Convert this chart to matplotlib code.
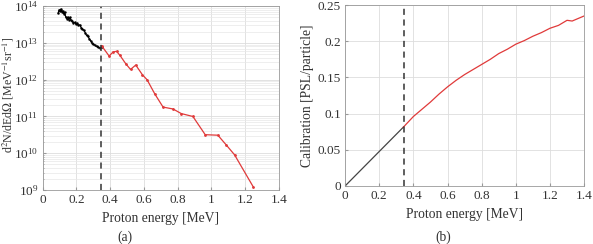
import numpy as np
import matplotlib.pyplot as plt

plt.rcParams['font.family'] = ['Liberation Serif', 'DejaVu Serif']
plt.rcParams['mathtext.fontset'] = 'stix'

# (a) spectrum
e_low = [0.092, 0.098, 0.104, 0.108, 0.112, 0.118, 0.124, 0.13, 0.136, 0.142, 0.148,
         0.155, 0.162, 0.168, 0.175, 0.182, 0.19, 0.198, 0.205, 0.212, 0.22, 0.228,
         0.236, 0.244, 0.252, 0.26, 0.268, 0.276, 0.284, 0.292, 0.3, 0.31, 0.32,
         0.33, 0.34, 0.35]
n_low = [6.5e13, 8.0e13, 7.2e13, 8.3e13, 7.0e13, 7.5e13, 6.2e13, 6.8e13, 5.2e13, 4.6e13,
         5.0e13, 4.3e13, 4.9e13, 4.1e13, 3.9e13, 3.5e13, 3.6e13, 3.2e13, 3.4e13, 3.0e13,
         3.1e13, 2.6e13, 2.4e13, 2.2e13, 1.9e13, 1.6e13, 1.5e13, 1.3e13, 1.15e13, 1.0e13,
         9.3e12, 8.6e12, 8.0e12, 7.6e12, 7.2e12, 7.8e12]
e_high = [0.35, 0.394, 0.418, 0.438, 0.458, 0.493, 0.521, 0.552, 0.592, 0.619, 0.665,
          0.714, 0.773, 0.822, 0.891, 0.964, 1.039, 1.088, 1.138, 1.25]
n_high = [8.3e12, 4.4e12, 5.7e12, 5.9e12, 4.6e12, 2.7e12, 1.9e12, 2.5e12, 1.35e12, 1.0e12,
          4.1e11, 1.8e11, 1.6e11, 1.2e11, 1.0e11, 3.2e10, 3.1e10, 1.7e10, 9.1e9, 1.2e9]

# (b) calibration
e_cal_low = [0.0, 0.34]
c_cal_low = [0.0, 0.081]
e_cal_high = [0.34, 0.4, 0.45, 0.5, 0.55, 0.6, 0.65, 0.7, 0.75, 0.8, 0.85, 0.9, 0.95,
              1.0, 1.05, 1.1, 1.15, 1.2, 1.25, 1.3, 1.33, 1.37, 1.4]
c_cal_high = [0.081, 0.096, 0.106, 0.116, 0.127, 0.137, 0.146, 0.154, 0.161, 0.168,
              0.175, 0.183, 0.189, 0.196, 0.201, 0.207, 0.212, 0.218, 0.222, 0.229,
              0.228, 0.232, 0.235]

cut = 0.345
red = '#e03a3a'
grid_c = '#dddddd'
fs = 9.8

fig = plt.figure(figsize=(5.93, 2.44), dpi=100)
ax1 = fig.add_axes([0.072, 0.221, 0.398, 0.754])
ax2 = fig.add_axes([0.582, 0.238, 0.403, 0.741])

ax1.semilogy(e_low, n_low, color='black', lw=0.9, marker='.', ms=1.5)
ax1.semilogy(e_high, n_high, color=red, lw=0.9, marker='.', ms=2)
ax1.axvline(cut, color='#333333', ls='--', lw=1.1, dashes=(4, 3))
ax1.set_xlim(0, 1.4)
ax1.set_ylim(1e9, 1e14)
ax1.set_xticks(np.arange(0, 1.41, 0.2))
ax1.set_xticklabels(['0', '0.2', '0.4', '0.6', '0.8', '1', '1.2', '1.4'])
ax1.grid(True, which='major', color=grid_c, lw=0.6)
ax1.grid(True, which='minor', color='#e8e8e8', lw=0.5)
ax1.set_xlabel('Proton energy [MeV]', fontsize=fs, color='#333333', labelpad=4)
ax1.set_ylabel(r'd$^2$N/dEd$\Omega$ [MeV$^{-1}$sr$^{-1}$]', fontsize=8.6,
               color='#333333')
ax1.yaxis.set_label_coords(-0.112, 0.52)

ax2.plot(e_cal_low, c_cal_low, color='#444444', lw=0.9)
ax2.plot(e_cal_high, c_cal_high, color=red, lw=0.9)
ax2.axvline(cut, color='#333333', ls='--', lw=1.1, dashes=(4, 3))
ax2.set_xlim(0, 1.4)
ax2.set_ylim(0, 0.25)
ax2.set_xticks(np.arange(0, 1.41, 0.2))
ax2.set_xticklabels(['0', '0.2', '0.4', '0.6', '0.8', '1', '1.2', '1.4'])
ax2.set_yticks([0, 0.05, 0.1, 0.15, 0.2, 0.25])
ax2.set_yticklabels(['0', '0.05', '0.1', '0.15', '0.2', '0.25'])
ax2.grid(True, color=grid_c, lw=0.6)
ax2.set_xlabel('Proton energy [MeV]', fontsize=fs, color='#333333', labelpad=4)
ax2.set_ylabel('Calibration [PSL/particle]', fontsize=fs, color='#333333', labelpad=3)

for ax in (ax1, ax2):
    ax.set_axisbelow(True)
    for s in ax.spines.values():
        s.set_color('#999999')
        s.set_linewidth(0.6)
    ax.tick_params(which='both', direction='in', color='#999999', labelsize=fs - 0.3,
                   labelcolor='#333333', length=2, pad=3)
    ax.tick_params(which='minor', length=1)

fig.text(0.211, 0.015, '(a)', fontsize=fs, color='#333333', ha='center')
fig.text(0.747, 0.015, '(b)', fontsize=fs, color='#333333', ha='center')

fig.savefig('out.png', dpi=100)
